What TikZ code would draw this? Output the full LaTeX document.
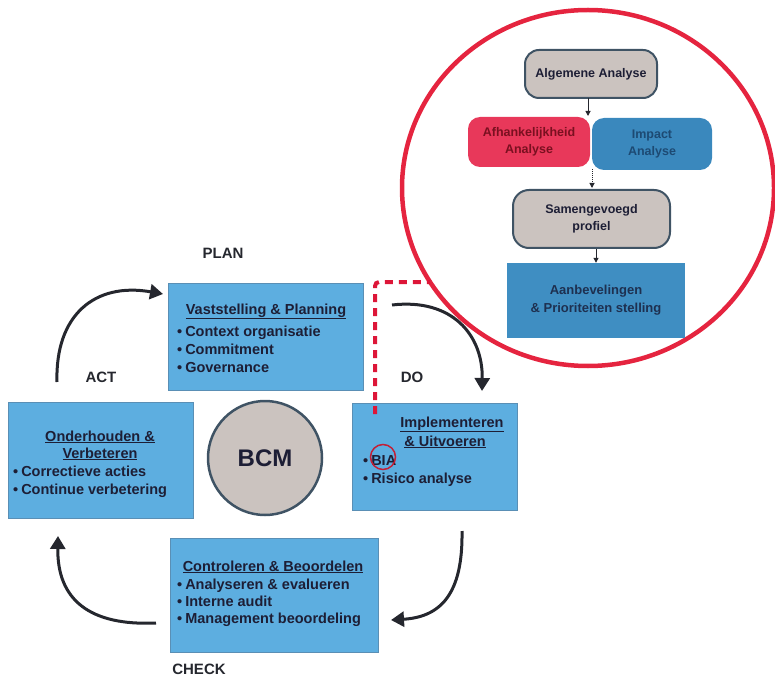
\documentclass[tikz,border=0pt]{standalone}
\usepackage{fontspec}
\setmainfont{Liberation Sans}
\usetikzlibrary{arrows.meta}

\definecolor{boxblue}{HTML}{5DAEE0}
\definecolor{boxedge}{HTML}{5A8FB5}
\definecolor{ink}{HTML}{1D1E35}
\definecolor{arrowink}{HTML}{25272E}
\definecolor{ringred}{HTML}{E5243F}
\definecolor{dashred}{HTML}{DD1638}
\definecolor{greyfill}{HTML}{CBC3BF}
\definecolor{greyedge}{HTML}{3F5364}
\definecolor{pinkfill}{HTML}{E8385A}
\definecolor{pinkink}{HTML}{7A1020}
\definecolor{impactfill}{HTML}{3A88BD}
\definecolor{impactink}{HTML}{1D4A73}
\definecolor{advicefill}{HTML}{3F8EC2}
\definecolor{adviceink}{HTML}{1E3050}

\tikzset{
  mainbox/.style={rectangle, fill=boxblue, draw=boxedge, line width=0.8pt, inner sep=0pt},
  head/.style={font=\bfseries\fontsize{14.5}{17}\selectfont, text=ink, inner sep=0pt, anchor=base},
  item/.style={font=\bfseries\fontsize{14.5}{17}\selectfont, text=ink, inner sep=0pt, anchor=base west},
  phase/.style={font=\bfseries\fontsize{15}{18}\selectfont, text=arrowink, inner sep=0pt},
  cycle/.style={draw=arrowink, line width=3pt, -{Triangle[length=13pt,width=15pt]}},
  roundbox/.style={rectangle, rounded corners=14pt, inner sep=0pt, align=center,
                   font=\bfseries\fontsize{12.5}{17}\selectfont},
  greybox/.style={roundbox, fill=greyfill, draw=greyedge, line width=2pt, text=ink},
  small/.style={draw=arrowink, line width=1pt, -{Triangle[length=5pt,width=5pt]}},
}

\newcommand{\bul}{\textbullet\hspace{3pt}}

\begin{document}
\begin{tikzpicture}[x=1pt,y=-1pt]
\useasboundingbox (0,0) rectangle (775,684);

% ---------- detail ring: business impact analysis ----------
\draw[ringred, line width=4.5pt] (588,188) ellipse [x radius=186, y radius=178];

\node[greybox, minimum width=132pt, minimum height=48pt] (alg) at (591,74)
  {Algemene Analyse};
\node[roundbox, rounded corners=12pt, fill=pinkfill, text=pinkink,
      minimum width=122pt, minimum height=50pt] (afh) at (529,142)
  {Afhankelijkheid\\Analyse};
\node[roundbox, rounded corners=12pt, fill=impactfill, text=impactink,
      minimum width=120pt, minimum height=52pt] (imp) at (652,144)
  {Impact\\Analyse};
\node[greybox, rounded corners=16pt, minimum width=157pt, minimum height=58pt] (sam) at (591.5,219)
  {Samengevoegd\\profiel};
\node[rectangle, fill=advicefill, inner sep=0pt, align=center, text=adviceink,
      font=\bfseries\fontsize{13}{18}\selectfont,
      minimum width=178pt, minimum height=75pt] (adv) at (596,300.5)
  {Aanbevelingen\\\& Prioriteiten stelling};

\coordinate (a1) at (588,98);   \coordinate (a2) at (588,116);
\coordinate (b1) at (592,169);  \coordinate (b2) at (592,188);
\draw[small] (a1) -- (a2);
\draw[small, densely dotted] (b1) -- (b2);
\draw[small] (sam.south -| 596,0) -- (adv.north -| 596,0);

% ---------- BCM cycle boxes ----------
\node[mainbox, minimum width=195pt, minimum height=107pt] (plan) at (265.5,336.5) {};
\node[mainbox, minimum width=185pt, minimum height=116pt] (act)  at (100.5,460) {};
\node[mainbox, minimum width=165pt, minimum height=107pt] (do)   at (434.5,456.5) {};
\node[mainbox, minimum width=208pt, minimum height=114pt] (chk)  at (274,595) {};

\node[circle, fill=greyfill, draw=greyedge, line width=2.5pt, minimum size=114pt,
      font=\bfseries\fontsize{24}{28}\selectfont, text=ink] (bcm) at (265,458) {BCM};

% plan box text
\node[head] (planh) at (266,314) {\underline{Vaststelling \& Planning}};
\node[item] (plan1) at (177,336) {\bul Context organisatie};
\node[item] (plan2) at (177,354) {\bul Commitment};
\node[item] (plan3) at (177,372) {\bul Governance};

% act box text
\node[head] (acth1) at (100,441) {\underline{Onderhouden \&}};
\node[head] (acth2) at (100,458) {\underline{Verbeteren}};
\node[item] (act1) at (13,476) {\bul Correctieve acties};
\node[item] (act2) at (13,494) {\bul Continue verbetering};

% do box text
\node[head] (doh1) at (452,427) {\underline{Implementeren}};
\node[head] (doh2) at (445,446) {\underline{\& Uitvoeren}};
\node[item] (do1) at (363,465) {\bul BIA};
\node[item] (do2) at (363,483) {\bul Risico analyse};
\draw[ringred!85!black, line width=1.5pt] (383,457) circle [radius=12.5];

% check box text
\node[head] (chkh) at (273,571) {\underline{Controleren \& Beoordelen}};
\node[item] (chk1) at (177,589) {\bul Analyseren \& evalueren};
\node[item] (chk2) at (177,606) {\bul Interne audit};
\node[item] (chk3) at (177,623) {\bul Management beoordeling};

% ---------- phase labels ----------
\node[phase] (lplan)  at (223,253) {PLAN};
\node[phase] (lact)   at (101,377) {ACT};
\node[phase] (ldo)    at (412,377) {DO};
\node[phase] (lcheck) at (199,669) {CHECK};

% ---------- cycle arrows ----------
\coordinate (actS) at (57,382);   \coordinate (actE) at (163,294);
\coordinate (doS)  at (392,305);  \coordinate (doE)  at (482,391);
\coordinate (chkS) at (462,531);  \coordinate (chkE) at (391,620);
\coordinate (bckS) at (156,623);  \coordinate (bckE) at (58,536);

\draw[cycle] (actS) .. controls (55,315) and (95,282) .. (actE);
\draw[cycle] (doS)  .. controls (452,298) and (483,335) .. (doE);
\draw[cycle] (chkS) .. controls (463,595) and (440,617) .. (chkE);
\draw[cycle] (bckS) .. controls (90,626) and (57,600) .. (bckE);

% ---------- link from BIA to the detail ring ----------
\coordinate (linkS) at (375,414);
\coordinate (linkC) at (375,282);
\coordinate (linkE) at (430,282);
\draw[dashred, line width=4pt, dash pattern=on 8pt off 6pt, rounded corners=4pt]
  (linkS) -- (linkC) -- (linkE);
\end{tikzpicture}
\end{document}
